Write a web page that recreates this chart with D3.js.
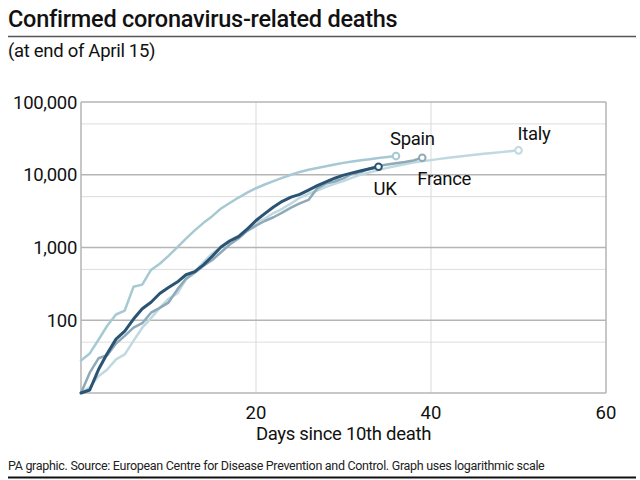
<!DOCTYPE html>
<html>
<head>
<meta charset="utf-8">
<script src="https://cdn.jsdelivr.net/npm/d3@7"></script>
<style>
  html, body { margin: 0; padding: 0; background: #ffffff; }
  svg { display: block; font-family: Roboto, "Liberation Sans", sans-serif; }
</style>
</head>
<body>
<svg id="chart" width="640" height="480"></svg>
<script>
// ---- Data (deaths by days since 10th death) ----
const italy = [10,12,17,21,29,34,52,79,107,148,197,233,366,463,631,827,1016,1266,1441,1809,2158,2503,2978,3405,4032,4825,5476,6077,6820,7503,8165,9134,10023,10779,11591,12428,13155,13915,14681,15362,15887,16523,17127,17669,18279,18849,19468,19899,20465,21067,21645];
const spain = [28,35,54,84,120,136,288,309,491,598,767,1002,1326,1720,2182,2696,3434,4089,4858,5690,6528,7340,8189,9053,10003,10935,11744,12418,13055,13798,14555,15238,15843,16353,16972,17489,18056];
const france = [10,19,30,33,48,61,79,91,127,148,175,264,372,450,562,674,860,1100,1331,1696,1995,2314,2606,3024,3523,4032,4503,6507,7560,8078,8911,10328,10869,12210,13197,13832,14393,14967,15729,17167];
const uk = [10,11,21,35,55,71,104,144,177,233,281,335,422,465,578,759,1019,1228,1408,1789,2352,2921,3605,4313,4934,5373,6159,7097,7978,8958,9875,10612,11329,12107,12868];

const countries = ["Italy", "Spain", "France", "UK"];
const seriesValues = [italy, spain, france, uk];

const yMajorTicks = [100, 1000, 10000, 100000];
const yMinorTicks = [50, 500, 5000, 50000];
const xTicks = [20, 40, 60];

const titleText = "Confirmed coronavirus-related deaths";
const subtitleText = "(at end of April 15)";
const xAxisTitle = "Days since 10th death";
const footerText = "PA graphic. Source: European Centre for Disease Prevention and Control. Graph uses logarithmic scale";

// ---- Styling ----
const colors = { Italy: "#c0d9e0", Spain: "#a6c9d3", France: "#8ea9b8", UK: "#2b5474" };
const widths = { Italy: 2.5, Spain: 2.5, France: 2.5, UK: 3 };
const labelOffsets = {
  Italy:  { dx: -1, dy: -10, anchor: "start" },
  Spain:  { dx: -6, dy: -11, anchor: "start" },
  France: { dx: -5, dy: 27, anchor: "start" },
  UK:     { dx: -5, dy: 28, anchor: "start" }
};

const svg = d3.select("#chart");
const plot = { left: 81, right: 606, top: 102, bottom: 393 };

const x = d3.scaleLinear().domain([0, 60]).range([plot.left, plot.right]);
const y = d3.scaleLog().domain([10, 100000]).range([plot.bottom, plot.top]);

// Title
svg.append("text").attr("x", 8).attr("y", 27)
  .attr("font-size", 23.5).attr("font-weight", 500).attr("fill", "#111")
  .attr("letter-spacing", -0.25)
  .text(titleText);
svg.append("line").attr("x1", 8).attr("x2", 636).attr("y1", 36.5).attr("y2", 36.5)
  .attr("stroke", "#555").attr("stroke-width", 1.5);
svg.append("text").attr("x", 8).attr("y", 57)
  .attr("font-size", 18.5).attr("fill", "#111").attr("letter-spacing", -0.3)
  .text(subtitleText);

const g = svg.append("g");

// minor horizontal grid
g.selectAll(".ymin").data(yMinorTicks).join("line")
  .attr("x1", plot.left).attr("x2", plot.right)
  .attr("y1", d => y(d)).attr("y2", d => y(d))
  .attr("stroke", "#dddddd").attr("stroke-width", 1);

// vertical grid
g.selectAll(".xg").data(xTicks).join("line")
  .attr("x1", d => x(d)).attr("x2", d => x(d))
  .attr("y1", plot.top).attr("y2", plot.bottom)
  .attr("stroke", d => d === 60 ? "#b5b5b5" : "#d9d9d9")
  .attr("stroke-width", d => d === 60 ? 1.5 : 1);

// major horizontal grid
g.selectAll(".ymaj").data([10].concat(yMajorTicks)).join("line")
  .attr("x1", plot.left).attr("x2", plot.right)
  .attr("y1", d => y(d)).attr("y2", d => y(d))
  .attr("stroke", "#b5b5b5").attr("stroke-width", 1.5);

// left axis line
g.append("line").attr("x1", plot.left).attr("x2", plot.left)
  .attr("y1", plot.top).attr("y2", plot.bottom)
  .attr("stroke", "#b5b5b5").attr("stroke-width", 1.5);

// y tick labels
g.selectAll(".ylab").data(yMajorTicks).join("text")
  .attr("x", 77).attr("y", d => y(d)).attr("dy", "0.36em")
  .attr("text-anchor", "end").attr("font-size", 18.5).attr("fill", "#111")
  .attr("letter-spacing", -0.3)
  .text(d => d3.format(",")(d));

// x tick labels
g.selectAll(".xlab").data(xTicks).join("text")
  .attr("x", d => x(d)).attr("y", 419)
  .attr("text-anchor", "middle").attr("font-size", 18.5).attr("fill", "#111")
  .text(d => d);

svg.append("text").attr("x", x(30)).attr("y", 440)
  .attr("text-anchor", "middle").attr("font-size", 18.5).attr("fill", "#111")
  .attr("letter-spacing", -0.3)
  .text(xAxisTitle);

// lines
const line = d3.line().x((d, i) => x(i)).y(d => y(d));
countries.forEach((c, k) => {
  const vals = seriesValues[k];
  g.append("path").datum(vals)
    .attr("d", line).attr("fill", "none")
    .attr("stroke", colors[c]).attr("stroke-width", widths[c])
    .attr("stroke-linejoin", "round").attr("stroke-linecap", "round");
});
countries.forEach((c, k) => {
  const vals = seriesValues[k];
  const last = vals.length - 1;
  g.append("circle").attr("cx", x(last)).attr("cy", y(vals[last])).attr("r", 3.3)
    .attr("fill", "#fff").attr("stroke", colors[c]).attr("stroke-width", 2);
  const o = labelOffsets[c];
  g.append("text").attr("x", x(last) + o.dx).attr("y", y(vals[last]) + o.dy)
    .attr("text-anchor", o.anchor).attr("font-size", 18.5).attr("fill", "#111")
    .attr("letter-spacing", -0.3)
    .text(c);
});

// footer
svg.append("text").attr("x", 8).attr("y", 470)
  .attr("font-size", 12.5).attr("fill", "#222").attr("letter-spacing", -0.3)
  .text(footerText);
svg.append("line").attr("x1", 8).attr("x2", 636).attr("y1", 477.5).attr("y2", 477.5)
  .attr("stroke", "#111").attr("stroke-width", 2);
</script>
</body>
</html>
